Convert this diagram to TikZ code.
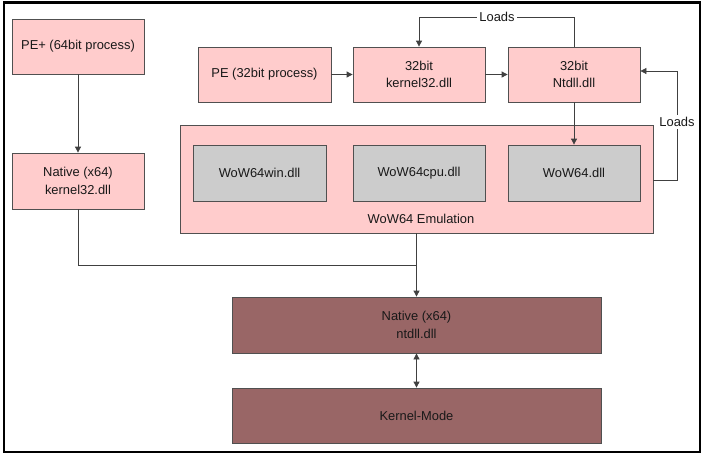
\documentclass[tikz,border=0pt]{standalone}
\usepackage{fontspec}
\setmainfont{Liberation Sans}
\usetikzlibrary{arrows.meta}
\definecolor{pinkfill}{HTML}{FFCCCC}
\definecolor{grayfill}{HTML}{CCCCCC}
\definecolor{brownfill}{HTML}{996666}
\definecolor{boxedge}{HTML}{505050}
\definecolor{wire}{HTML}{404040}
\begin{document}
\begin{tikzpicture}[x=1pt,y=-1pt,
  every node/.style={font=\fontsize{12.9}{17.5}\selectfont, text=black!90},
  block/.style={draw=boxedge, line width=0.8pt, align=center, inner sep=0pt,
    minimum width=132pt, minimum height=55pt},
  pinkbox/.style={block, fill=pinkfill},
  graybox/.style={block, fill=grayfill},
  brownbox/.style={block, fill=brownfill, minimum width=369pt, minimum height=56pt},
  conn/.style={draw=wire, line width=0.8pt},
  arr/.style={conn, -{Triangle[length=6pt,width=6pt]}},
  loadlabel/.style={fill=white, inner sep=2pt}]

% canvas and frame
\useasboundingbox (0,0) rectangle (703,459);
\fill[white] (0,0) rectangle (703,459);
\draw[line width=2.2pt, black] (4,2.5) rectangle (700,452);

% 64-bit process side
\node[pinkbox] (peplus) at (78,46.5) {PE+ (64bit process)};
\node[pinkbox, minimum height=56pt] (k64) at (78,181) {Native (x64)\\kernel32.dll};

% 32-bit process chain
\node[pinkbox, minimum width=133pt] (pe32) at (264.5,74.5) {PE (32bit process)};
\node[pinkbox] (k32) at (419,74.5) {32bit\\kernel32.dll};
\node[pinkbox] (nt32) at (574,74.5) {32bit\\Ntdll.dll};

% WoW64 emulation layer
\node[draw=boxedge, line width=0.8pt, fill=pinkfill, minimum width=473pt,
  minimum height=108pt, inner sep=0pt] (emu) at (416.5,179) {};
\node (emulabel) at (421,219) {WoW64 Emulation};
\node[graybox, minimum width=133pt, minimum height=56pt] (win) at (259.5,173) {WoW64win.dll};
\node[graybox, minimum height=56pt] (cpu) at (419,173) {WoW64cpu.dll};
\node[graybox, minimum height=56pt] (wow) at (574,173) {WoW64.dll};

% native layer
\node[brownbox] (nt64) at (416.5,325) {Native (x64)\\ntdll.dll};
\node[brownbox, minimum height=55pt] (kmode) at (416.5,415.5) {Kernel-Mode};

% connectors
\draw[arr] (peplus) -- (k64);
\coordinate (join) at (416.5,265);
\draw[conn] (k64.south) |- (join);
\draw[arr] (emu.south) -- (nt64.north);
\draw[conn, {Triangle[length=6pt,width=6pt]}-{Triangle[length=6pt,width=6pt]}] (nt64) -- (kmode);

\draw[arr] (pe32) -- (k32);
\draw[arr] (k32) -- (nt32);
\draw[arr] (nt32) -- (wow);

\coordinate (topturn) at (419,17);
\draw[arr] (nt32.north) |- (topturn) -- (k32.north);
\node[loadlabel] (loadstop) at (497,17) {Loads};

\coordinate (rightlow) at (677,180);
\coordinate (righthigh) at (677,71);
\draw[arr] (emu.east |- rightlow) -- (rightlow) -- (righthigh) -- (nt32.east |- righthigh);
\node[loadlabel] (loadsright) at (677,122) {Loads};
\end{tikzpicture}
\end{document}
